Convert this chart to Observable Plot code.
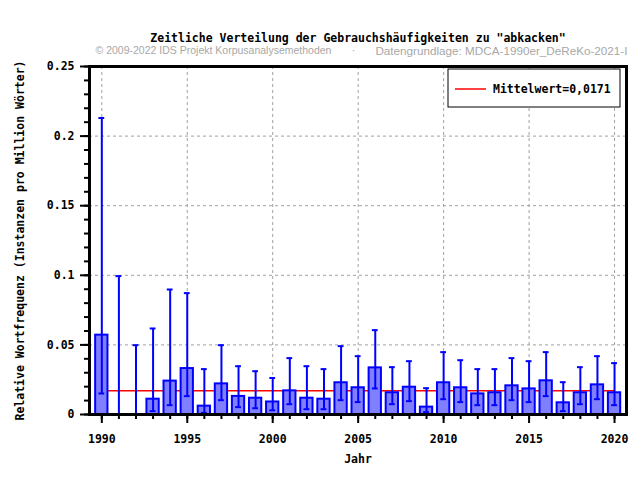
<!DOCTYPE html>
<html>
<head>
<meta charset="utf-8">
<script src="https://cdn.jsdelivr.net/npm/d3@7"></script>
<script src="https://cdn.jsdelivr.net/npm/@observablehq/plot@0.6"></script>
<style>
  html, body { margin: 0; padding: 0; background: white; }
</style>
</head>
<body>
<div id="chart"></div>
<script>
const years = [1990,1991,1992,1993,1994,1995,1996,1997,1998,1999,2000,2001,2002,2003,2004,2005,2006,2007,2008,2009,2010,2011,2012,2013,2014,2015,2016,2017,2018,2019,2020];
const values = [0.057,0,0,0.011,0.024,0.033,0.006,0.022,0.013,0.0117,0.009,0.017,0.0117,0.011,0.0228,0.0192,0.0335,0.0156,0.0196,0.0053,0.0228,0.0192,0.0148,0.0156,0.0206,0.0184,0.0242,0.0084,0.0156,0.0213,0.0156];
const upper = [0.213,0.0994,0.0498,0.0618,0.0898,0.0872,0.0326,0.0498,0.0347,0.0311,0.0262,0.0405,0.0347,0.0326,0.0491,0.0419,0.0606,0.034,0.0383,0.0189,0.0448,0.039,0.0326,0.0326,0.0405,0.0383,0.0448,0.0232,0.034,0.0419,0.0369];
const lower = [0.0151,0,0,0.0024,0.0067,0.0132,0.0012,0.0103,0.0053,0.0045,0.003,0.0074,0.0038,0.0038,0.0103,0.0089,0.0187,0.0074,0.0096,0.0017,0.011,0.0089,0.0067,0.0067,0.0103,0.0089,0.0132,0.0024,0.0074,0.011,0.0067];
const meanValue = 0.0171;
const meanLabel = "Mittelwert=0,0171";
const yTicks = [0,0.05,0.1,0.15,0.2,0.25];
const yTickLabels = ["0","0.05","0.1","0.15","0.2","0.25"];
const yMinorTicks = d3.range(0,26).map(i => i/100);
const xTicks = [1990,1995,2000,2005,2010,2015,2020];
const xTickLabels = ["1990","1995","2000","2005","2010","2015","2020"];
const xMinorTicks = years;
const titleText = "Zeitliche Verteilung der Gebrauchshäufigkeiten zu \"abkacken\"";
const subLeft = "© 2009-2022 IDS Projekt Korpusanalysemethoden";
const subDot = "·";
const subRight = "Datengrundlage: MDCA-1990er_DeReKo-2021-I";
const xLabel = "Jahr";
const yLabel = "Relative Wortfrequenz (Instanzen pro Million Wörter)";

const data = years.map((y, i) => ({year: y, value: values[i], hi: upper[i], lo: lower[i]}));

const mono = "DejaVu Sans Mono";
const blue = "#0000ff";
const subStyle = {fontFamily: "Liberation Sans", fontWeight: "normal", fill: "#a8a8a8"};

const svg = Plot.plot({
  width: 640,
  height: 480,
  marginLeft: 89,
  marginRight: 14,
  marginTop: 66,
  marginBottom: 66,
  style: {fontFamily: mono, fontSize: "11.5px", fontWeight: "bold", background: "white", color: "black"},
  x: {domain: [1989.28, 2020.7]},
  y: {domain: [0, 0.25]},
  marks: [
    Plot.gridY(yTicks.slice(1, -1), {stroke: "#a0a0a0", strokeOpacity: 1, strokeDasharray: "3,3", strokeWidth: 1}),
    Plot.gridX(xTicks, {stroke: "#a0a0a0", strokeOpacity: 1, strokeDasharray: "3,3", strokeWidth: 1}),
    Plot.ruleY([meanValue], {x1: years[0], x2: years[years.length - 1], stroke: "#ff0000", strokeWidth: 1.5}),
    Plot.rectY(data.filter(d => d.value > 0), {x1: d => d.year - 0.36, x2: d => d.year + 0.36, y1: 0, y2: "value", fill: "#8080ff", stroke: blue, strokeWidth: 2}),
    Plot.ruleX(data, {x: "year", y1: "lo", y2: "hi", stroke: blue, strokeWidth: 2}),
    Plot.ruleY(data, {y: "hi", x1: d => d.year - 0.17, x2: d => d.year + 0.17, stroke: blue, strokeWidth: 2}),
    Plot.ruleY(data.filter(d => d.lo > 0), {y: "lo", x1: d => d.year - 0.17, x2: d => d.year + 0.17, stroke: blue, strokeWidth: 2}),
    Plot.axisY(yMinorTicks, {tickSize: 5, tickFormat: () => "", label: null, strokeWidth: 2}),
    Plot.axisY(yTicks, {tickSize: 9, tickPadding: 6, tickFormat: d => yTickLabels[yTicks.indexOf(d)], label: null, strokeWidth: 2}),
    Plot.axisX(xMinorTicks, {tickSize: 5, tickFormat: () => "", label: null, strokeWidth: 2}),
    Plot.axisX(xTicks, {tickSize: 9, tickPadding: 11, tickFormat: d => xTickLabels[xTicks.indexOf(d)], label: null, strokeWidth: 2}),
    Plot.frame({stroke: "black", strokeWidth: 3}),
    Plot.text([titleText], {frameAnchor: "top", dy: -33, fontSize: 11.5, fontWeight: "bold", fontFamily: mono}),
    Plot.text([subLeft], {frameAnchor: "top-left", dx: 6, dy: -20, textAnchor: "start", fontSize: 10.5, ...subStyle}),
    Plot.text([subDot], {frameAnchor: "top-left", dx: 264, dy: -20, textAnchor: "middle", fontSize: 10.5, ...subStyle}),
    Plot.text([subRight], {frameAnchor: "top-right", dx: 1, dy: -20, textAnchor: "end", fontSize: 11.7, ...subStyle}),
    Plot.text([xLabel], {frameAnchor: "bottom", dy: 48, fontFamily: mono, fontWeight: "bold", fontSize: 11.5}),
    Plot.text([yLabel], {frameAnchor: "left", dx: -69, rotate: -90, textAnchor: "middle", fontFamily: mono, fontWeight: "bold", fontSize: 11.5})
  ]
});

// legend box (top-right inside the frame)
const lg = d3.select(svg).append("g").attr("transform", "translate(448,69)");
lg.append("rect").attr("width", 172).attr("height", 38).attr("fill", "white").attr("stroke", "black").attr("stroke-width", 1);
lg.append("line").attr("x1", 7).attr("x2", 38).attr("y1", 20).attr("y2", 20).attr("stroke", "#ff0000").attr("stroke-width", 1.5);
lg.append("text").attr("x", 45).attr("y", 20).attr("dy", "0.35em").attr("text-anchor", "start").attr("font-family", mono).attr("font-weight", "bold").attr("font-size", 11.5).attr("fill", "black").text(meanLabel);

document.getElementById("chart").appendChild(svg);
</script>
</body>
</html>
